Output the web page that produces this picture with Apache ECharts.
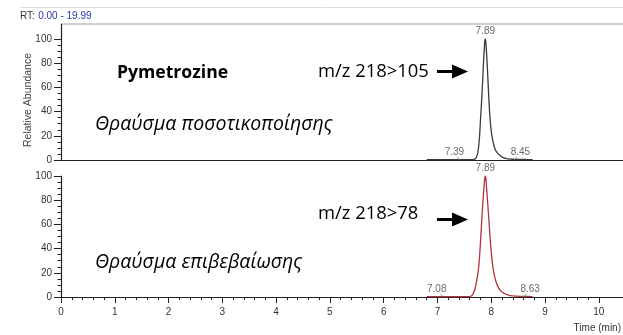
<!DOCTYPE html>
<html>
<head>
<meta charset="utf-8">
<script src="https://cdn.jsdelivr.net/npm/echarts@6/dist/echarts.min.js"></script>
<style>
  html, body { margin: 0; padding: 0; background: #fff; }
  #chart { width: 623px; height: 335px; }
</style>
</head>
<body>
<div id="chart"></div>
<script>
// Retention time (min) and relative abundance (%) for the quantifier trace, m/z 218>105
const timeQuant = [6.80, 7.00, 7.30, 7.60, 7.68, 7.72, 7.75, 7.78, 7.80, 7.82, 7.84, 7.86, 7.88, 7.89, 7.90, 7.92, 7.94, 7.96, 7.98, 8.00, 8.02, 8.05, 8.08, 8.12, 8.16, 8.20, 8.25, 8.30, 8.40, 8.60, 8.77];
const abundQuant = [0.3, 0.3, 0.3, 0.3, 0.5, 2, 6, 18, 33, 48, 65, 84, 98, 100, 97, 83, 65, 47, 33, 24, 18, 12, 8, 5.5, 4, 2.5, 1.5, 1, 0.6, 0.4, 0.3];

// Qualifier trace, m/z 218>78
const timeQual = [6.80, 7.00, 7.30, 7.55, 7.62, 7.66, 7.70, 7.74, 7.77, 7.80, 7.83, 7.86, 7.88, 7.89, 7.90, 7.92, 7.95, 7.98, 8.01, 8.04, 8.08, 8.12, 8.17, 8.22, 8.28, 8.35, 8.45, 8.60, 8.77];
const abundQual = [0.3, 0.3, 0.3, 0.3, 0.6, 2.5, 7, 16, 26, 45, 68, 88, 98, 100, 98, 86, 68, 48, 33, 22, 14, 9, 5.5, 3.5, 2.2, 1.2, 0.7, 0.5, 0.3];

// Apex and integration limits (min)
const apexQuant = 7.89, limitsQuant = [7.39, 8.45];
const apexQual = 7.89, limitsQual = [7.08, 8.63];

// Axis ticks
const xMajorTicks = [0, 1, 2, 3, 4, 5, 6, 7, 8, 9, 10];
const xMinorStep = 0.2;
const yMajorTicks = [0, 20, 40, 60, 80, 100];
const yMinorStep = 5;

const xMax = 10.45;
const topYMax = 112.4;

function minorTicks(major, step) {
  const out = [];
  for (let i = 0; i < major.length - 1; i++) {
    for (let v = major[i] + step; v < major[i + 1] - 1e-6; v += step) out.push(+v.toFixed(3));
  }
  return out;
}
const zip = (xs, ys) => xs.map((x, i) => [x, ys[i]]);

const axisColor = '#222';
const labelFont = { fontFamily: 'Liberation Sans, Arial, sans-serif', fontSize: 10, color: '#333' };

function xAxes(gridIndex, withLabels) {
  return [
    {
      type: 'value', gridIndex, min: 0, max: xMax, position: 'bottom',
      axisLine: { show: true, onZero: false, lineStyle: { color: axisColor, width: 1.2 } },
      axisTick: { show: withLabels, customValues: xMajorTicks, length: 6, lineStyle: { color: axisColor } },
      axisLabel: Object.assign({ show: withLabels, customValues: xMajorTicks, margin: 10 }, labelFont),
      splitLine: { show: false }
    },
    {
      type: 'value', gridIndex, min: 0, max: xMax, position: 'bottom',
      axisLine: { show: false },
      axisTick: { show: withLabels, customValues: minorTicks(xMajorTicks, xMinorStep), length: 3, lineStyle: { color: axisColor } },
      axisLabel: { show: false },
      splitLine: { show: false }
    }
  ];
}
function yAxes(gridIndex, max) {
  return [
    {
      type: 'value', gridIndex, min: 0, max, position: 'left',
      axisLine: { show: true, onZero: false, lineStyle: { color: axisColor, width: 1.2 } },
      axisTick: { show: true, customValues: yMajorTicks, length: 7, lineStyle: { color: axisColor } },
      axisLabel: Object.assign({ customValues: yMajorTicks, margin: 9 }, labelFont),
      splitLine: { show: false }
    },
    {
      type: 'value', gridIndex, min: 0, max, position: 'left',
      axisLine: { show: false },
      axisTick: { show: true, customValues: minorTicks(yMajorTicks, yMinorStep), length: 3.5, lineStyle: { color: axisColor } },
      axisLabel: { show: false },
      splitLine: { show: false }
    }
  ];
}

function peakLabels(xAxisIndex, yAxisIndex, apex, limits, offsets) {
  const lbl = Object.assign({ show: true, position: 'top', distance: 3,
    formatter: p => p.value[0].toFixed(2) }, labelFont, { color: '#444' });
  return {
    type: 'scatter', xAxisIndex, yAxisIndex, symbolSize: 0, silent: true, clip: false,
    label: lbl,
    data: [
      { value: [apex, 100] },
      { value: [limits[0], 0], label: { offset: offsets[0] } },
      { value: [limits[1], 0], label: { offset: offsets[1] } }
    ]
  };
}
function limitMarks(xAxisIndex, yAxisIndex, limits) {
  return limits.map((t, i) => ({
    type: 'line', xAxisIndex, yAxisIndex, silent: true, showSymbol: false,
    lineStyle: { color: '#66cc55', width: 1 },
    data: i === 0 ? [[t - 0.03, 2.5], [t + 0.03, 0.4]] : [[t - 0.03, 0.4], [t + 0.03, 2.5]]
  }));
}

const chart = echarts.init(document.getElementById('chart'), null, { renderer: 'canvas' });

const annFont = 'Open Sans, Noto Sans, sans-serif';
function arrow(x, y) {
  return {
    type: 'group', x, y,
    children: [
      { type: 'rect', shape: { x: 0, y: -1.5, width: 17, height: 3 }, style: { fill: '#000' } },
      { type: 'polygon', shape: { points: [[15, -7], [31, 0], [15, 7]] }, style: { fill: '#000' } }
    ]
  };
}

chart.setOption({
  animation: false,
  backgroundColor: '#fff',
  grid: [
    { left: 61, right: 0, top: 24, bottom: 175 },
    { left: 61, right: 0, top: 176, bottom: 38 }
  ],
  xAxis: [...xAxes(0, false), ...xAxes(1, true)],
  yAxis: [...yAxes(0, topYMax), ...yAxes(1, 100)],
  series: [
    {
      type: 'line', xAxisIndex: 0, yAxisIndex: 0, showSymbol: false, smooth: 0.25,
      lineStyle: { color: '#3a3a3a', width: 1.3 }, data: zip(timeQuant, abundQuant)
    },
    {
      type: 'line', xAxisIndex: 2, yAxisIndex: 2, showSymbol: false, smooth: 0.25,
      lineStyle: { color: '#b0343c', width: 1.3 }, data: zip(timeQual, abundQual)
    },
    ...limitMarks(0, 0, limitsQuant),
    ...limitMarks(2, 2, limitsQual),
    peakLabels(0, 0, apexQuant, limitsQuant, [[-4, 0], [5, 0]]),
    peakLabels(2, 2, apexQual, limitsQual, [[-5, 0], [5, 0]])
  ],
  graphic: [
    { type: 'line', shape: { x1: 20, y1: 7.5, x2: 623, y2: 7.5 }, style: { stroke: '#dcdcdc', lineWidth: 1 } },
    { type: 'line', shape: { x1: 62, y1: 24, x2: 623, y2: 24 }, style: { stroke: '#cfcfcf', lineWidth: 2 } },
    {
      type: 'text', left: 20, top: 10,
      style: {
        text: '{a|RT:} {b|0.00 - 19.99}',
        rich: {
          a: { fontFamily: 'Liberation Sans, Arial', fontSize: 10, fill: '#333' },
          b: { fontFamily: 'Liberation Sans, Arial', fontSize: 10, fill: '#2a3aa8' }
        }
      }
    },
    {
      type: 'text', x: 28, y: 100, rotation: Math.PI / 2,
      style: { text: 'Relative Abundance', fontFamily: 'Liberation Sans, Arial', fontSize: 10.5, fill: '#444', align: 'center', verticalAlign: 'middle' }
    },
    {
      type: 'text', x: 621, y: 328,
      style: { text: 'Time (min)', fontFamily: 'Liberation Sans, Arial', fontSize: 10, fill: '#333', align: 'right', verticalAlign: 'middle' }
    },
    {
      type: 'text', x: 117, y: 72.5,
      style: { text: 'Pymetrozine', fontFamily: annFont, fontWeight: 'bold', fontSize: 17.6, fill: '#000', verticalAlign: 'middle' }
    },
    {
      type: 'text', x: 318, y: 72,
      style: { text: 'm/z 218>105', fontFamily: annFont, fontSize: 18.4, fill: '#000', verticalAlign: 'middle' }
    },
    arrow(437, 71.5),
    {
      type: 'text', x: 95, y: 124,
      style: { text: 'Θραύσμα ποσοτικοποίησης', fontFamily: annFont, fontStyle: 'italic', fontSize: 19.5, fill: '#000', verticalAlign: 'middle' }
    },
    {
      type: 'text', x: 318, y: 213.5,
      style: { text: 'm/z 218>78', fontFamily: annFont, fontSize: 18.4, fill: '#000', verticalAlign: 'middle' }
    },
    arrow(437, 219.5),
    {
      type: 'text', x: 95, y: 262,
      style: { text: 'Θραύσμα επιβεβαίωσης', fontFamily: annFont, fontStyle: 'italic', fontSize: 19.5, fill: '#000', verticalAlign: 'middle' }
    }
  ]
});
</script>
</body>
</html>
